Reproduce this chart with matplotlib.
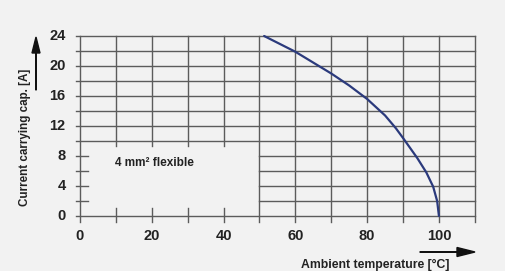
import matplotlib.pyplot as plt
from matplotlib.patches import FancyArrow

# curve
temp = [51.3, 60, 70, 75, 80, 85, 88, 90, 94, 96.5, 98.4, 99.5, 100]
current = [24, 21.9, 19.0, 17.4, 15.6, 13.4, 11.7, 10.4, 7.7, 5.8, 3.9, 2, 0]

x_ticks = [0, 20, 40, 60, 80, 100]
y_ticks = [0, 4, 8, 12, 16, 20, 24]

bg = '#f2f2f2'
grid_c = '#5c5c5c'
txt_c = '#222222'
plt.rcParams['font.family'] = ['Liberation Sans', 'DejaVu Sans']

fig = plt.figure(figsize=(5.06, 2.71), dpi=100, facecolor=bg)
ax = fig.add_axes([0.1368, 0.1614, 0.8158, 0.7334])
ax.set_facecolor(bg)
ax.set_xlim(-3, 112)
ax.set_ylim(-1.5, 25)
for s in ax.spines.values():
    s.set_visible(False)
ax.set_xticks([])
ax.set_yticks([])

lw = 1.0
# horizontal grid lines (blank box in lower left)
for y in range(0, 25, 2):
    if 0 < y < 10:
        ax.plot([-1, 2.3], [y, y], color=grid_c, lw=lw)
        ax.plot([50, 110], [y, y], color=grid_c, lw=lw)
    else:
        ax.plot([-1, 110], [y, y], color=grid_c, lw=lw)
# vertical grid lines
for x in range(0, 111, 10):
    if 0 < x < 50:
        ax.plot([x, x], [9.3, 24], color=grid_c, lw=lw)
        ax.plot([x, x], [-0.8, 1.05], color=grid_c, lw=lw)
    else:
        ax.plot([x, x], [-0.8, 24], color=grid_c, lw=lw)

ax.plot(temp, current, color='#2b3a7c', lw=1.6, solid_capstyle='round',
        solid_joinstyle='round')

for y in y_ticks:
    ax.text(-4, y, str(y), ha='right', va='center', fontsize=10.5,
            fontweight='bold', color=txt_c)
for x in x_ticks:
    ax.text(x, -1.7, str(x), ha='center', va='top', fontsize=10.5,
            fontweight='bold', color=txt_c)

ax.text(9.7, 7.1, '4 mm² flexible', ha='left', va='center', fontsize=8.5,
        fontweight='bold', color=txt_c)

fig.text(25 / 506, 1 - 137 / 271, 'Current carrying cap. [A]', rotation=90,
         ha='center', va='center', fontsize=8.4, fontweight='bold', color=txt_c)
fig.text(375 / 506, 1 - 265 / 271, 'Ambient temperature [°C]',
         ha='center', va='center', fontsize=8.8, fontweight='bold', color=txt_c)

# axis arrows
fig.patches.append(FancyArrow(
    36 / 506, 1 - 90 / 271, 0, 53 / 271, width=0.4 / 506, head_width=8 / 506,
    head_length=16 / 271, length_includes_head=True, color='#111111',
    transform=fig.transFigure, figure=fig))
fig.patches.append(FancyArrow(
    420 / 506, 1 - 252 / 271, 55 / 506, 0, width=0.6 / 271, head_width=9 / 271,
    head_length=18 / 506, length_includes_head=True, color='#111111',
    transform=fig.transFigure, figure=fig))

fig.savefig('out.png', dpi=100, facecolor=bg)
